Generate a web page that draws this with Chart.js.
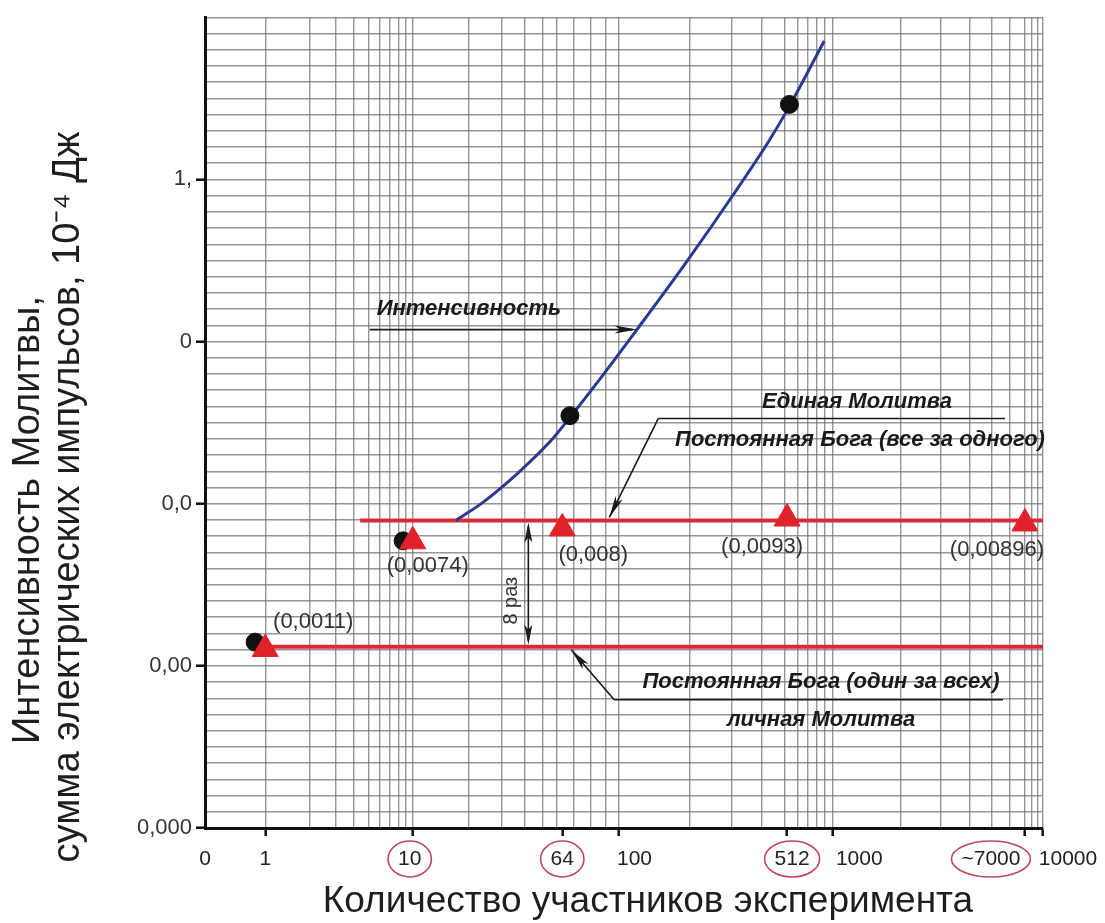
<!DOCTYPE html>
<html>
<head>
<meta charset="utf-8">
<script src="https://cdn.jsdelivr.net/npm/chart.js@4.4.1/dist/chart.umd.min.js"></script>
<style>
  html, body { margin: 0; padding: 0; background: #ffffff; }
  #wrap { width: 1105px; height: 923px; }
</style>
</head>
<body>
<div id="wrap"><canvas id="c" width="1105" height="923"></canvas></div>
<script>
// ---------- data ----------
const xTickValues = [1, 10, 64, 100, 512, 1000, 7000, 10000];
const xTickLabels = ['1', '10', '64', '100', '512', '1000', '~7000', '10000'];
const xCircled = [10, 64, 512, 7000];
const xOriginLabel = '0';
const yTickValues = [0.0001, 0.001, 0.01, 0.1, 1];
const yTickLabels = ['0,000', '0,00', '0,0', '0', '1,'];

// Intensity curve
const curveX = [17.1, 24.2, 37, 55.8, 68.8, 87.3, 117, 190, 309, 430, 535, 888];
const curveY = [0.00788, 0.0103, 0.0155, 0.0246, 0.0349, 0.0603, 0.1135, 0.299, 0.833, 1.73, 2.87, 7.14];
// measured intensity (black dots)
const dotX = [0.89, 8.6, 68, 530];
const dotY = [0.0014, 0.0059, 0.0349, 2.9];
// God's constant (red triangles)
const triX = [1, 10, 64, 512, 7000];
const triY = [0.00127, 0.00586, 0.00704, 0.0081, 0.00755];
const triLabels = ['(0,0011)', '(0,0074)', '(0,008)', '(0,0093)', '(0,00896)'];
// horizontal levels
const groupLevel = 0.00788;
const groupLineX = [4.4, 10000];
const personalLevel = 0.00131;
const personalLineX = [1, 10000];

const xTitle = 'Количество участников эксперимента';
const yTitleLines = ['Интенсивность Молитвы,', 'сумма электрических импульсов, 10⁻⁴ Дж'];
const annIntensity = 'Интенсивность';
const annGroup1 = 'Единая Молитва';
const annGroup2 = 'Постоянная Бога (все за одного)';
const annPersonal1 = 'Постоянная Бога (один за всех)';
const annPersonal2 = 'личная Молитва';
const annRatio = '8 раз';

// ---------- axis definition: the hand-drawn log paper of the original ----------
// knots of the printed x scale and relative widths of the segments between them
const paperKnots = [0.5, 1, 10, 64, 100, 512, 1000, 7000, 10000];
const paperSegWidths = [60, 147, 149, 56, 168, 45, 192, 18];
const paperCum = paperSegWidths.reduce((a, w) => (a.push(a[a.length - 1] + w), a), [0]);
const paperTotal = paperCum[paperCum.length - 1];

function paperFraction(v) {
  const lv = Math.log10(v);
  const L = paperKnots.map(Math.log10);
  if (lv <= L[0]) return 0;
  if (lv >= L[L.length - 1]) return 1;
  let i = 0;
  while (i < L.length - 2 && lv > L[i + 1]) i++;
  return (paperCum[i] + (lv - L[i]) / (L[i + 1] - L[i]) * paperSegWidths[i]) / paperTotal;
}
function paperValue(f) {
  const t = f * paperTotal;
  const L = paperKnots.map(Math.log10);
  let i = 0;
  while (i < paperSegWidths.length - 1 && t > paperCum[i + 1]) i++;
  return Math.pow(10, L[i] + (t - paperCum[i]) / paperSegWidths[i] * (L[i + 1] - L[i]));
}

class PaperLogScale extends Chart.LogarithmicScale {
  getPixelForValue(value) {
    if (value === undefined || value === null || isNaN(value)) return NaN;
    return this.getPixelForDecimal(paperFraction(value));
  }
  getValueForPixel(pixel) {
    return paperValue(this.getDecimalForPixel(pixel));
  }
}
PaperLogScale.id = 'paperlog';
PaperLogScale.defaults = Chart.LogarithmicScale.defaults;
Chart.register(PaperLogScale);

// ---------- helpers ----------
const zip = (xs, ys) => xs.map((v, i) => ({ x: v, y: ys[i] }));
const near = (a, b) => Math.abs(Math.log10(a) - Math.log10(b)) < 1e-6;
const FONT = '"Liberation Sans", Arial, sans-serif';

const RED = '#d92b36';
const BLUE = '#2b3a8f';
const GRID = 'rgba(115,115,115,0.75)';
const xLabelShift = [0, -3, 0, 16, 5, 27, -34, 25];

function arrowHead(ctx, x1, y1, x2, y2, len, w) {
  const a = Math.atan2(y2 - y1, x2 - x1);
  ctx.beginPath();
  ctx.moveTo(x2, y2);
  ctx.lineTo(x2 - len * Math.cos(a) + w * Math.sin(a), y2 - len * Math.sin(a) - w * Math.cos(a));
  ctx.lineTo(x2 - len * 0.75 * Math.cos(a), y2 - len * 0.75 * Math.sin(a));
  ctx.lineTo(x2 - len * Math.cos(a) - w * Math.sin(a), y2 - len * Math.sin(a) + w * Math.cos(a));
  ctx.closePath();
  ctx.fill();
}
function line(ctx, x1, y1, x2, y2) {
  ctx.beginPath(); ctx.moveTo(x1, y1); ctx.lineTo(x2, y2); ctx.stroke();
}

const annotations = {
  id: 'annotations',
  afterDatasetsDraw(chart) {
    const { ctx, scales: { x, y } } = chart;
    ctx.save();
    ctx.strokeStyle = '#1a1a1a';
    ctx.fillStyle = '#1a1a1a';
    ctx.lineWidth = 1.6;

    // Интенсивность arrow
    const tx = x.getPixelForValue(curveX[6]) + 2;
    const ty = y.getPixelForValue(curveY[6]) - 3;
    line(ctx, tx - 267, ty, tx - 4, ty);
    arrowHead(ctx, tx - 267, ty, tx, ty, 22, 4);
    ctx.font = 'italic bold 22px ' + FONT;
    ctx.textAlign = 'left'; ctx.textBaseline = 'middle';
    ctx.fillText(annIntensity, tx - 260, ty - 21);

    // group prayer callout
    const gy = y.getPixelForValue(groupLevel);
    const gx = x.getPixelForValue(93);
    const gsx = gx + 49, gsy = gy - 102;
    line(ctx, gsx, gsy, 1005, gsy);
    line(ctx, gsx, gsy, gx, gy - 3);
    arrowHead(ctx, gsx, gsy, gx, gy - 3, 22, 4);
    ctx.textAlign = 'center';
    ctx.fillText(annGroup1, 857, gsy - 17);
    ctx.fillText(annGroup2, 860, gsy + 21);

    // personal prayer callout
    const py = y.getPixelForValue(personalLevel);
    const px = x.getPixelForValue(68.7);
    const psx = px + 43, psy = py + 53;
    line(ctx, psx, psy, 1003, psy);
    line(ctx, psx, psy, px, py + 3);
    arrowHead(ctx, psx, psy, px, py + 3, 22, 4);
    ctx.fillText(annPersonal1, 821, psy - 18);
    ctx.fillText(annPersonal2, 821, psy + 20);

    // 8 раз double arrow
    const rx = x.getPixelForValue(42);
    line(ctx, rx, gy + 6, rx, py - 6);
    arrowHead(ctx, rx, py, rx, gy + 2, 20, 4);
    arrowHead(ctx, rx, gy, rx, py - 2, 20, 4);
    ctx.save();
    ctx.translate(rx - 17, (gy + py) / 2 + 17);
    ctx.rotate(-Math.PI / 2);
    ctx.font = '20px "Liberation Sans", "DejaVu Sans", sans-serif';
    ctx.fillStyle = '#333';
    ctx.textAlign = 'center';
    ctx.fillText(annRatio, 0, 0);
    ctx.restore();

    // value labels next to triangles
    const offs = [[48, -27], [15, 25], [31, 27], [-25, 28], [-28, 26]];
    ctx.font = '22px ' + FONT;
    ctx.fillStyle = '#333';
    ctx.textAlign = 'center';
    triLabels.forEach((t, i) => {
      const cx = x.getPixelForValue(triX[i]) + offs[i][0];
      const cy = y.getPixelForValue(triY[i]) + offs[i][1];
      ctx.fillText(t, cx, cy);
    });
    ctx.restore();
  },
  afterDraw(chart) {
    const { ctx, scales: { x } } = chart;
    ctx.save();
    const ly = x.bottom - 95 + 31; // label row, under the axis
    // x tick labels
    ctx.font = '21px ' + FONT;
    ctx.fillStyle = '#222';
    ctx.textAlign = 'center'; ctx.textBaseline = 'middle';
    ctx.fillText(xOriginLabel, x.left, ly);
    const centers = xTickValues.map((v, i) => x.getPixelForValue(v) + xLabelShift[i]);
    xTickLabels.forEach((t, i) => ctx.fillText(t, centers[i], ly));
    // circles around selected labels
    ctx.strokeStyle = '#c0485a';
    ctx.lineWidth = 1.6;
    xCircled.forEach(v => {
      const i = xTickValues.indexOf(v);
      const w = ctx.measureText(xTickLabels[i]).width;
      ctx.beginPath();
      ctx.ellipse(centers[i], ly, w / 2 + 10, 18, 0, 0, Math.PI * 2);
      ctx.stroke();
    });
    // axis titles
    ctx.fillStyle = '#1e1e1e';
    ctx.font = '37px ' + FONT;
    ctx.fillText(xTitle, 648, 902);
    ctx.font = '38px ' + FONT;
    ctx.save();
    ctx.translate(29, 520); ctx.rotate(-Math.PI / 2);
    ctx.fillText(yTitleLines[0], 0, 0);
    ctx.restore();
    ctx.save();
    ctx.translate(69, 497); ctx.rotate(-Math.PI / 2);
    ctx.fillText(yTitleLines[1], 0, 0);
    ctx.restore();
    ctx.restore();
  }
};

// ---------- chart ----------
const X_MIN = paperKnots[0], X_MAX = paperKnots[paperKnots.length - 1];
const Y_MIN = 0.0001, Y_MAX = 10;

new Chart(document.getElementById('c'), {
  type: 'scatter',
  data: {
    datasets: [
      { label: 'Постоянная Бога', data: zip(triX, triY), pointStyle: 'triangle', pointRadius: 15,
        backgroundColor: '#e1222d', borderColor: '#e1222d', borderWidth: 1, order: 0 },
      { label: 'Интенсивность (измерения)', data: zip(dotX, dotY), pointRadius: 9,
        backgroundColor: '#111', borderColor: '#111', order: 1 },
      { label: 'Интенсивность', data: zip(curveX, curveY), showLine: true, pointRadius: 0,
        borderColor: BLUE, borderWidth: 3, tension: 0.4, cubicInterpolationMode: 'monotone', order: 2 },
      { label: 'Единая Молитва', data: zip(groupLineX, groupLineX.map(() => groupLevel)), showLine: true,
        pointRadius: 0, borderColor: RED, borderWidth: 4, order: 3 },
      { label: 'личная Молитва', data: zip(personalLineX, personalLineX.map(() => personalLevel)), showLine: true,
        pointRadius: 0, borderColor: RED, borderWidth: 4, order: 4 }
    ]
  },
  options: {
    responsive: false,
    animation: false,
    devicePixelRatio: 1,
    layout: { padding: { left: 0, right: 62, top: 11, bottom: 0 } },
    plugins: { legend: { display: false }, tooltip: { enabled: false } },
    scales: {
      x: {
        type: 'paperlog', min: X_MIN, max: X_MAX,
        afterBuildTicks(s) {
          const t = [{ value: X_MIN }];
          for (let e = 0; e < 4; e++) for (let m = 1; m <= 9; m++) t.push({ value: m * Math.pow(10, e) });
          t.push({ value: 10000 });
          [64, 512].forEach(v => t.push({ value: v }));
          t.sort((a, b) => a.value - b.value);
          s.ticks = t;
        },
        afterFit(s) { s.height = 95; },
        ticks: { autoSkip: false, maxRotation: 0, callback: () => '' },
        grid: {
          lineWidth: 1.4, tickLength: 8, tickWidth: 2.5,
          color(c) {
            const v = c.tick && c.tick.value;
            if (v === undefined || v === 64 || v === 512) return 'rgba(0,0,0,0)';
            return GRID;
          },
          tickColor(c) {
            const v = c.tick && c.tick.value;
            return (v !== undefined && xTickValues.some(t => near(t, v))) ? '#111' : 'rgba(0,0,0,0)';
          }
        },
        border: { display: true, color: '#111', width: 3 }
      },
      y: {
        type: 'logarithmic', min: Y_MIN, max: Y_MAX,
        afterBuildTicks(s) {
          const t = [];
          for (let k = -40; k <= 10; k++) t.push({ value: Number(Math.pow(10, k / 10).toPrecision(12)) });
          s.ticks = t;
        },
        afterFit(s) { s.width = 205; },
        ticks: {
          autoSkip: false, padding: 4, color: '#333',
          font: { family: FONT, size: 22 },
          callback(v) {
            const i = yTickValues.findIndex(t => near(t, v));
            return i >= 0 ? yTickLabels[i] : '';
          }
        },
        grid: {
          lineWidth: 1.4, tickLength: 9, tickWidth: 2.5,
          color: GRID,
          tickColor(c) {
            const v = c.tick && c.tick.value;
            return (v !== undefined && yTickValues.some(t => near(t, v))) ? '#111' : 'rgba(0,0,0,0)';
          }
        },
        border: { display: true, color: '#111', width: 3 }
      }
    }
  },
  plugins: [annotations]
});
</script>
</body>
</html>
